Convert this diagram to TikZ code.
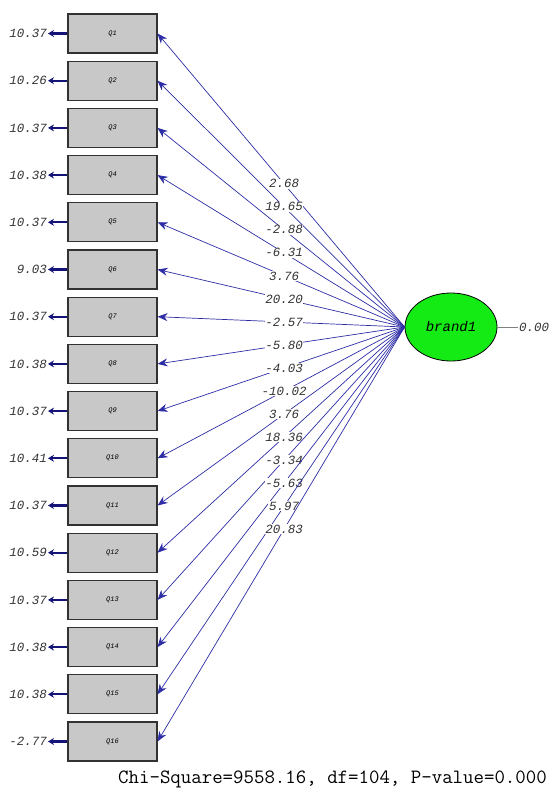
\documentclass[tikz,border=0pt]{standalone}
\usepackage{fontspec}
\newfontfamily\lmono{Liberation Mono}
\usetikzlibrary{arrows.meta}
\definecolor{pathblue}{RGB}{45,45,165}
\definecolor{tipblue}{RGB}{20,20,120}
\definecolor{boxgray}{RGB}{200,200,200}
\definecolor{boxedge}{RGB}{50,50,50}
\definecolor{latgreen}{RGB}{20,235,20}
\tikzset{
  obs/.style={draw=boxedge, line width=1.1pt, fill=boxgray, minimum width=89pt, minimum height=39pt, inner sep=0pt, font=\lmono\itshape\fontsize{7}{7}\selectfont},
  lat/.style={ellipse, draw=black, line width=0.8pt, fill=latgreen, minimum width=92pt, minimum height=68pt, inner sep=0pt, font=\lmono\itshape\fontsize{14}{14}\selectfont},
  errlab/.style={anchor=east, inner sep=1pt, text=black!80, font=\lmono\itshape\fontsize{12.5}{12.5}\selectfont},
  tlab/.style={fill=white, inner sep=0.6pt, text=black!80, font=\lmono\itshape\fontsize{12.5}{12.5}\selectfont},
  loadpath/.style={draw=pathblue, line width=0.7pt, -{Stealth[length=10pt,width=8pt]}},
  errarrow/.style={draw=tipblue, line width=2.2pt, -{Stealth[length=6pt,width=7pt]}},
}
\usetikzlibrary{shapes.geometric}
\begin{document}
\begin{tikzpicture}[x=1pt,y=-1pt]
\useasboundingbox (0,0) rectangle (553,792);
% latent variable
\node[lat] (brand) at (451,327) {brand1};
\node[anchor=west, inner sep=1pt, text=black!80, font=\lmono\itshape\fontsize{12.5}{12.5}\selectfont] (bv) at (518,327) {0.00};
\draw[black!50, line width=0.5pt] (brand.east) -- (bv.west);
% observed variables
\foreach \i/\e/\t in {1/10.37/2.68, 2/10.26/19.65, 3/10.37/-2.88, 4/10.38/-6.31,
  5/10.37/3.76, 6/9.03/20.20, 7/10.37/-2.57, 8/10.38/-5.80, 9/10.37/-4.03,
  10/10.41/-10.02, 11/10.37/3.76, 12/10.59/18.36, 13/10.37/-3.34, 14/10.38/-5.63,
  15/10.38/5.97, 16/-2.77/20.83}{
  \pgfmathsetmacro{\yy}{33.5+47.2*(\i-1)}
  \node[obs] (Q\i) at (112.5,\yy) {Q\i};
  \node[errlab] (e\i) at (48,\yy) {\e};
  \draw[errarrow] (Q\i.west) -- (e\i.east);
  \draw[loadpath] (brand.west) -- node[tlab, pos=0.488] (t\i) {\t} (Q\i.east);
}
\node[anchor=west, inner sep=0pt, font=\ttfamily\fontsize{20.3}{20.3}\selectfont] (chi) at (118,779) {Chi-Square=9558.16, df=104, P-value=0.000};
\end{tikzpicture}
\end{document}
